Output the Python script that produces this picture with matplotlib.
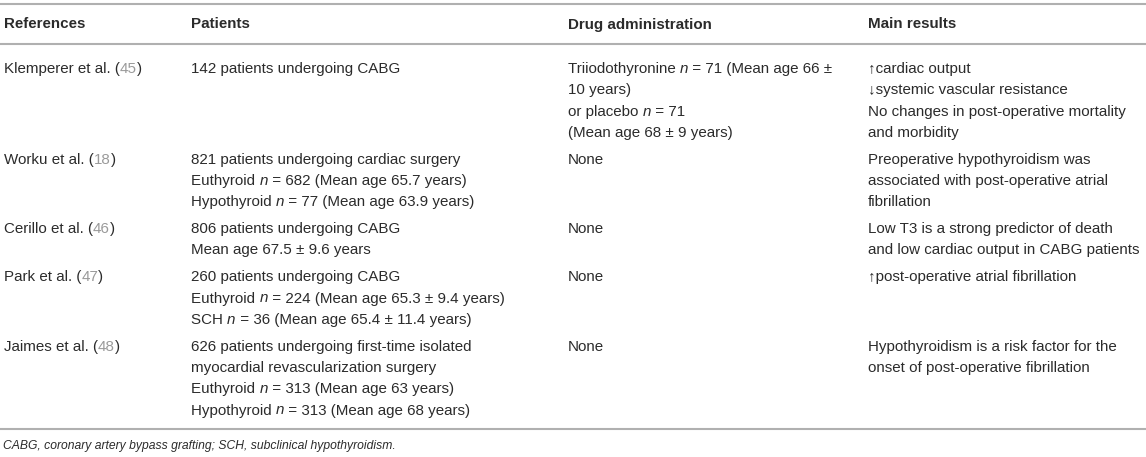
import matplotlib
matplotlib.use('Agg')
import matplotlib.pyplot as plt

plt.rcParams['font.family'] = ['Liberation Sans', 'DejaVu Sans']

headers = ['References', 'Patients', 'Drug administration', 'Main results']
ref_names = ['Klemperer et al.', 'Worku et al.', 'Cerillo et al.', 'Park et al.', 'Jaimes et al.']
ref_nums = ['45', '18', '46', '47', '48']
# $..$ marks italic parts
patients = [
    ['142 patients undergoing CABG'],
    ['821 patients undergoing cardiac surgery',
     'Euthyroid $n$ = 682 (Mean age 65.7 years)',
     'Hypothyroid $n$ = 77 (Mean age 63.9 years)'],
    ['806 patients undergoing CABG',
     'Mean age 67.5 ± 9.6 years'],
    ['260 patients undergoing CABG',
     'Euthyroid $n$ = 224 (Mean age 65.3 ± 9.4 years)',
     'SCH $n$ = 36 (Mean age 65.4 ± 11.4 years)'],
    ['626 patients undergoing first-time isolated',
     'myocardial revascularization surgery',
     'Euthyroid $n$ = 313 (Mean age 63 years)',
     'Hypothyroid $n$ = 313 (Mean age 68 years)'],
]
drugs = [
    ['Triiodothyronine $n$ = 71 (Mean age 66 ±',
     '10 years)',
     'or placebo $n$ = 71',
     '(Mean age 68 ± 9 years)'],
    ['None'],
    ['None'],
    ['None'],
    ['None'],
]
results = [
    ['↑cardiac output',
     '↓systemic vascular resistance',
     'No changes in post-operative mortality',
     'and morbidity'],
    ['Preoperative hypothyroidism was',
     'associated with post-operative atrial',
     'fibrillation'],
    ['Low T3 is a strong predictor of death',
     'and low cardiac output in CABG patients'],
    ['↑post-operative atrial fibrillation'],
    ['Hypothyroidism is a risk factor for the',
     'onset of post-operative fibrillation'],
]
footnote = 'CABG, coronary artery bypass grafting; SCH, subclinical hypothyroidism.'

W, H = 1146, 457
col_x = [4, 191, 568, 868]
fs = 10.9
txt_col = '#2b2b2b'
num_col = '#9a9a9a'
rule_col = '#b0b0b0'
line_h = 21.3
row_gap = 26.8
base_off = 5

fig = plt.figure(figsize=(W / 100, H / 100), dpi=100)
ax = fig.add_axes([0, 0, 1, 1])
ax.set_xlim(0, W)
ax.set_ylim(H, 0)
ax.axis('off')
renderer = fig.canvas.get_renderer()

# rules
ax.hlines([4, 44, 429], 0, W, color=rule_col, lw=1.5)

# header
for x, h in zip(col_x, headers):
    ax.text(x, 23 + 5.5, h, fontsize=fs, fontweight='bold',
            color=txt_col, va='baseline', ha='left')


def piece(x, y, s, color=txt_col, style='normal'):
    t = ax.text(x, y, s, fontsize=fs, color=color, style=style,
                va='baseline', ha='left')
    return x + t.get_window_extent(renderer=renderer).width


def rich(x, y, s):
    for j, part in enumerate(s.split('$')):
        if part:
            x = piece(x, y, part, style='italic' if j % 2 else 'normal')


y = 68
for i in range(len(ref_names)):
    yb = y + base_off
    x = piece(col_x[0], yb, ref_names[i] + ' (')
    x = piece(x, yb, ref_nums[i], num_col)
    piece(x, yb, ')')
    for c, lines in zip(col_x[1:], [patients[i], drugs[i], results[i]]):
        for k, s in enumerate(lines):
            rich(c, yb + k * line_h, s)
    n = max(len(patients[i]), len(drugs[i]), len(results[i]))
    y += (n - 1) * line_h + row_gap

ax.text(3, 445 + 4, footnote, fontsize=8.7, style='italic',
        color=txt_col, va='baseline', ha='left')

fig.savefig('out.png', dpi=100)
